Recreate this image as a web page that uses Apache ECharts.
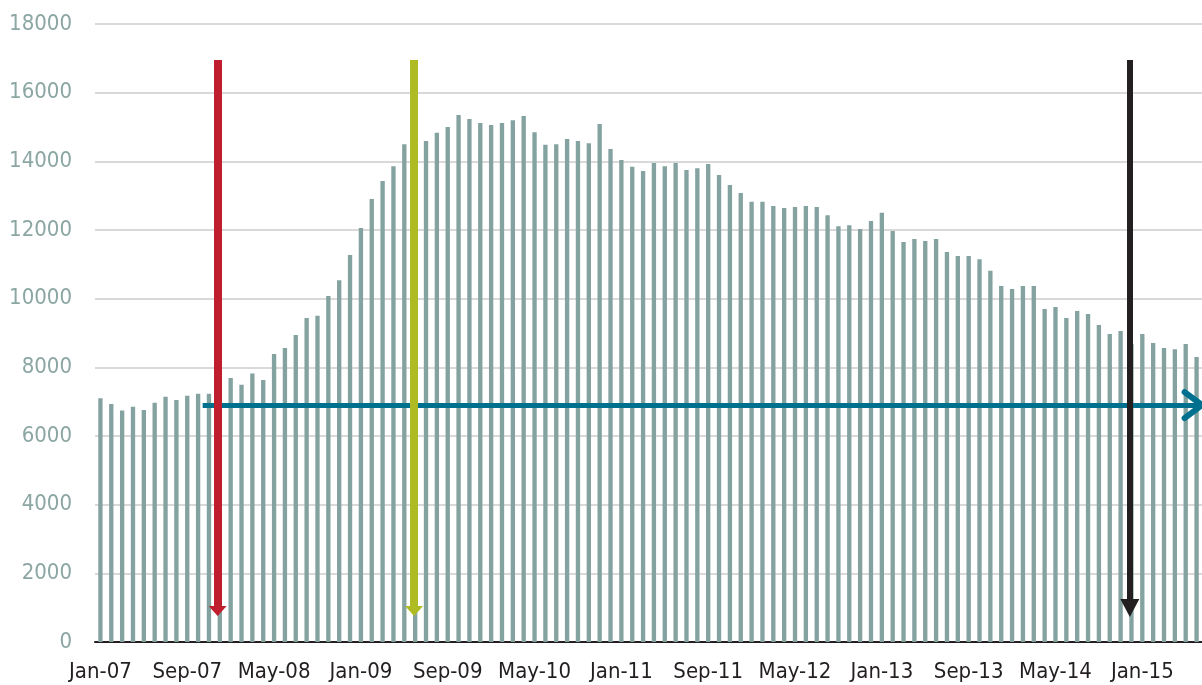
<!DOCTYPE html>
<html>
<head>
<meta charset="utf-8">
<script src="https://cdn.jsdelivr.net/npm/echarts@6/dist/echarts.min.js"></script>
<style>
  html, body { margin: 0; padding: 0; background: #fff; }
  #chart { width: 1202px; height: 685px; }
</style>
</head>
<body>
<div id="chart"></div>
<script>
  // month labels Jan-07 .. Jun-15
  const monthNames = ['Jan', 'Feb', 'Mar', 'Apr', 'May', 'Jun', 'Jul', 'Aug', 'Sep', 'Oct', 'Nov', 'Dec']
  const years = ['07', '08', '09', '10', '11', '12', '13', '14', '15']
  const monthCount = 102

  const values = [
    7100, 6930, 6740, 6850, 6760, 6970, 7140, 7050, 7170, 7230, 7230, 7250,
    7690, 7490, 7820, 7630, 8390, 8560, 8940, 9440, 9500, 10080, 10540, 11270,
    12060, 12900, 13430, 13860, 14500, 14600, 14590, 14830, 15000, 15350, 15230, 15120,
    15060, 15120, 15200, 15320, 14850, 14480, 14500, 14650, 14590, 14530, 15090, 14360,
    14040, 13840, 13720, 13950, 13860, 13950, 13750, 13800, 13920, 13600, 13310, 13080,
    12820, 12820, 12700, 12640, 12670, 12700, 12670, 12430, 12110, 12140, 12030, 12260,
    12500, 11970, 11650, 11740, 11680, 11740, 11360, 11240, 11240, 11150, 10810, 10370,
    10280, 10370, 10370, 9700, 9760, 9440, 9640, 9550, 9230, 8970, 9060, 8680,
    8970, 8710, 8560, 8530, 8680, 8300
  ]

  const yTicks = [0, 2000, 4000, 6000, 8000, 10000, 12000, 14000, 16000, 18000]

  // annotation arrows, x in months from Jan-07 (band edge = whole number)
  const redArrow = [11.3, 16950, 900]
  const greenArrow = [29.4, 16950, 900]
  const blackArrow = [95.35, 16950, 990]
  const blueArrow = [9.92, 102, 6900]

  const colors = ['#84a3a0', '#be1e2d', '#afbb22', '#231f20', '#00708f']
  const font = "'Liberation Sans Narrow', 'DejaVu Sans Condensed', 'Liberation Sans', sans-serif"

  const categories = []
  for (let i = 0; i < monthCount; i++) {
    categories.push(monthNames[i % 12] + '-' + years[Math.floor(i / 12)])
  }

  function vArrow(a, color, width, head) {
    return {
      type: 'line',
      xAxisIndex: 1,
      data: [],
      silent: true,
      markLine: {
        silent: true,
        animation: false,
        symbol: ['none', 'triangle'],
        symbolSize: head,
        label: { show: false },
        emphasis: { disabled: true },
        lineStyle: { color: color, width: width, type: 'solid', opacity: 1 },
        data: [[{ coord: [a[0], a[1]] }, { coord: [a[0], a[2]] }]]
      }
    }
  }

  const chart = echarts.init(document.getElementById('chart'))
  chart.setOption({
    animation: false,
    textStyle: { fontFamily: font },
    grid: { left: 95, right: 0, top: 24, bottom: 43, containLabel: false, outerBoundsMode: 'none' },
    xAxis: [{
      type: 'category',
      data: categories,
      axisLine: { lineStyle: { color: '#231f20', width: 2 } },
      axisTick: { interval: 7, length: 7, lineStyle: { color: '#231f20', width: 2 } },
      axisLabel: { interval: 7, color: '#231f20', fontSize: 22, margin: 19, fontFamily: font },
      splitLine: { show: false }
    }, {
      type: 'value',
      min: 0,
      max: monthCount,
      show: false
    }],
    yAxis: {
      type: 'value',
      min: yTicks[0],
      max: yTicks[yTicks.length - 1],
      interval: 2000,
      axisLine: { show: false },
      axisTick: { show: false },
      axisLabel: {
        color: '#8ba6a3', fontSize: 22, margin: 23, fontFamily: font,
        formatter: function (v) { return String(v) }
      },
      splitLine: { lineStyle: { color: '#d9d9d9', width: 2 } }
    },
    series: [{
      type: 'bar',
      data: values,
      barWidth: '40%',
      itemStyle: { color: colors[0] },
      silent: true
    }, {
      type: 'line',
      xAxisIndex: 1,
      data: [],
      silent: true,
      markLine: {
        silent: true,
        animation: false,
        symbol: ['none', 'none'],
        label: { show: false },
        emphasis: { disabled: true },
        lineStyle: { color: colors[4], width: 5, type: 'solid', opacity: 1 },
        data: [
          [{ coord: [blueArrow[0], blueArrow[2]] }, { coord: [blueArrow[1], blueArrow[2]] }],
          [{ coord: [100.4, 7280], lineStyle: { width: 6, cap: 'round' } }, { coord: [blueArrow[1], blueArrow[2]] }],
          [{ coord: [100.4, 6520], lineStyle: { width: 6, cap: 'round' } }, { coord: [blueArrow[1], blueArrow[2]] }]
        ]
      }
    },
    vArrow(redArrow, colors[1], 8, [18, 10]),
    vArrow(greenArrow, colors[2], 8, [18, 10]),
    vArrow(blackArrow, colors[3], 6, [19, 18])
    ]
  })
</script>
</body>
</html>
